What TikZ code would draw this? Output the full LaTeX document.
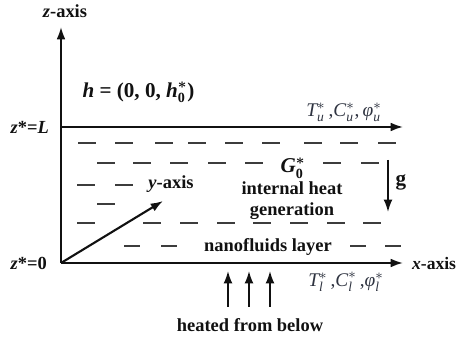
\documentclass[tikz,border=0pt]{standalone}
\usepackage{amsmath,amssymb}
\usepackage{fontspec}
\setmainfont{Liberation Serif}
\usepackage{tikz}
\usetikzlibrary{arrows.meta,positioning,calc}
\usepackage{xcolor}
\definecolor{ink}{HTML}{111111}
\definecolor{dashgray}{HTML}{3C3C3C}
\definecolor{slate}{HTML}{2E3340}

\tikzset{
  axis/.style={-{Latex[length=7pt,width=5pt]}, line width=1.1pt, ink},
  dashline/.style={line width=1.4pt, dashgray},
  lbl/.style={font=\fontsize{10.5}{12}\selectfont\bfseries, text=ink, inner sep=1pt},
  bclbl/.style={font=\fontsize{11}{13}\selectfont, text=slate, inner sep=1pt},
}

\begin{document}
\begin{tikzpicture}
  \useasboundingbox (-1.22,-1.48) rectangle (7.9,5.26);

  % axes and walls
  \coordinate (O) at (0,0);
  \coordinate (zend) at (0,4.72);
  \coordinate (xend) at (6.84,0);
  \coordinate (Ltop) at (0,2.72);
  \coordinate (Lend) at (6.84,2.72);
  \coordinate (yend) at (2.04,1.24);

  \draw[axis] (O) -- (zend);
  \draw[axis] (O) -- (xend);
  \draw[axis] (Ltop) -- (Lend);
  \draw[axis, line width=1.2pt] (O) -- (yend);

  % fluid layer dashes
  \foreach \x in {0.34,1.08,1.88,2.54,3.28,4.02,4.86,5.58,6.34}
    \draw[dashline] (\x,2.4) -- ++(0.36,0);
  \foreach \x in {0.72,1.44,2.18,2.94,3.68,5.24,6.0}
    \draw[dashline] (\x,2.0) -- ++(0.36,0);
  \foreach \x in {0.32,1.08}
    \draw[dashline] (\x,1.56) -- ++(0.36,0);
  \draw[dashline] (0.72,1.18) -- ++(0.36,0);
  \foreach \x in {0.32,1.64,2.38,3.12,3.84,4.58,5.32,6.04}
    \draw[dashline] (\x,0.8) -- ++(0.36,0);
  \foreach \x in {1.26,2.0,5.78,6.48}
    \draw[dashline] (\x,0.34) -- ++(0.32,0);

  % labels
  \node[lbl] (zlab) at (0.08,5.04) {\textit{z}-axis};
  \node[lbl, right, font=\fontsize{10}{12}\selectfont\bfseries] (xlab) at (6.98,0) {\textit{x}-axis};
  \node[lbl] (ylab) at (2.2,1.57) {\textit{y}-axis};
  \node[lbl, left] (zL) at (-0.2,2.72) {\textit{z}*=\textit{L}};
  \node[lbl, left] (z0) at (-0.24,0) {\textit{z}*=0};
  \node[lbl, font=\fontsize{12}{14}\selectfont\bfseries] (hfield) at (1.55,3.42)
    {\textit{h} = (0, 0, $\textbf{\textit{h}}_{\textbf{0}}^{\boldsymbol{*}}$)};
  \node[bclbl] (upper) at (5.66,3.02)
    {$\textit{T}_{\textit{u}}^{*}$\,,$\textit{C}_{\textit{u}}^{*}$,\,$\textit{φ}_{\textit{u}}^{*}$};
  \node[bclbl] (lower) at (5.7,-0.38)
    {$\textit{T}_{\textit{l}}^{*}$\,,$\textit{C}_{\textit{l}}^{*}$\,,$\textit{φ}_{\textit{l}}^{*}$};
  \node[lbl, font=\fontsize{12}{14}\selectfont\bfseries] (G0) at (4.64,1.9)
    {$\textbf{\textit{G}}_{\textbf{0}}^{\boldsymbol{*}}$};
  \node[lbl, align=center] (heatgen) at (4.62,1.25) {internal heat\\generation};
  \node[lbl] (nano) at (4.14,0.32) {nanofluids layer};
  \node[lbl] (below) at (3.78,-1.24) {heated from below};
  \node[lbl, font=\fontsize{12}{14}\selectfont\bfseries] (glab) at (6.8,1.62) {g};

  % gravity
  \coordinate (gtop) at (6.54,2.06);
  \coordinate (gbot) at (6.54,1.02);
  \draw[axis, line width=0.9pt] (gtop) -- (gbot);

  % heating arrows
  \foreach \x [count=\i] in {3.34,3.76,4.18} {
    \coordinate (hb\i) at (\x,-0.88);
    \coordinate (ht\i) at (\x,-0.16);
    \draw[axis, line width=0.9pt] (hb\i) -- (ht\i);
  }
\end{tikzpicture}
\end{document}
